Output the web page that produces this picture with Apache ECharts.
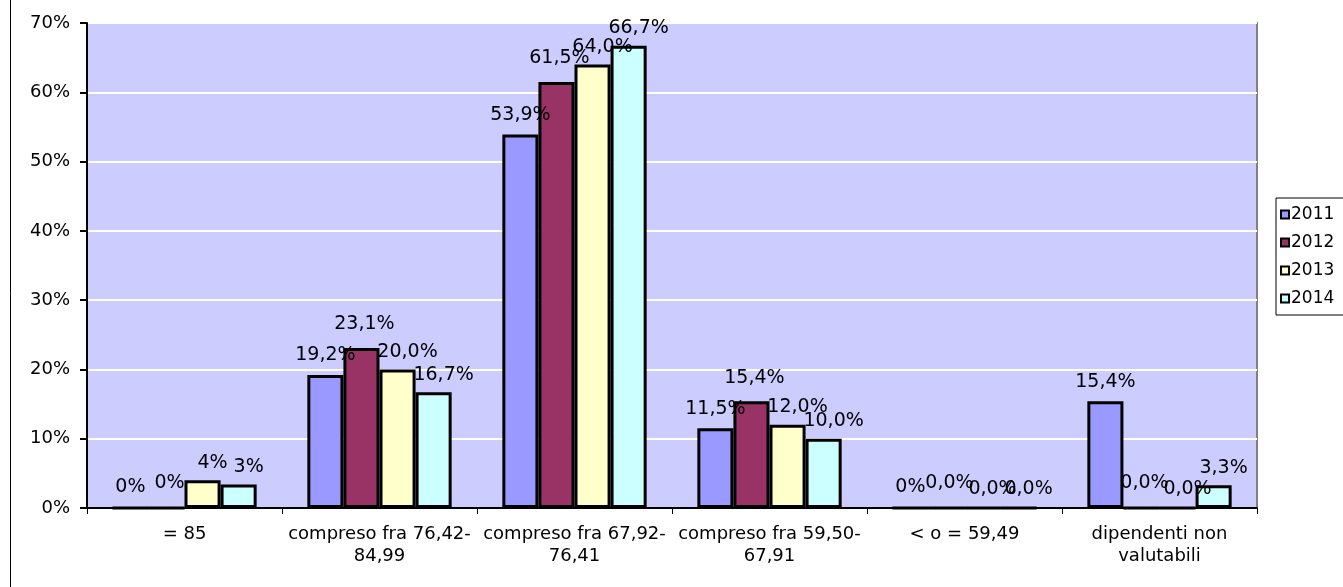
<!DOCTYPE html>
<html>
<head>
<meta charset="utf-8">
<script src="https://cdn.jsdelivr.net/npm/echarts@6/dist/echarts.min.js"></script>
<style>html,body{margin:0;padding:0;background:#fff}#c{width:1343px;height:587px}</style>
</head>
<body>
<div id="c"></div>
<script>
var categories = ['= 85', 'compreso fra 76,42-\n84,99', 'compreso fra 67,92-\n76,41', 'compreso fra 59,50-\n67,91', '< o = 59,49', 'dipendenti non\nvalutabili'];
var seriesNames = ['2011', '2012', '2013', '2014'];
var v2011 = [0, 19.2, 53.9, 11.5, 0, 15.4];
var v2012 = [0, 23.1, 61.5, 15.4, 0, 0];
var v2013 = [4.0, 20.0, 64.0, 12.0, 0, 0];
var v2014 = [3.4, 16.7, 66.7, 10.0, 0, 3.3];
// decimals shown in each data label
var dec2011 = [0, 1, 1, 1, 0, 1];
var dec2012 = [0, 1, 1, 1, 1, 1];
var dec2013 = [0, 1, 1, 1, 1, 1];
var dec2014 = [0, 1, 1, 1, 1, 1];
var yTicks = [0, 10, 20, 30, 40, 50, 60, 70];

var FONT = 'DejaVu Sans';
function fmt(v, d) { return v.toFixed(d).replace('.', ',') + '%'; }
function mk(name, data, dec, color, off, dist) {
  return {
    name: name, type: 'bar', data: data, barGap: '0%', barCategoryGap: '26%',
    itemStyle: { color: color, borderColor: '#000', borderWidth: 3 },
    label: {
      show: true, position: 'top', distance: dist, offset: off,
      fontFamily: FONT, fontSize: 19, color: '#000',
      formatter: function (p) { return fmt(p.value, dec[p.dataIndex]); }
    }
  };
}
var chart = echarts.init(document.getElementById('c'));
chart.setOption({
  animation: false,
  backgroundColor: '#fff',
  grid: { left: 87, right: 86, top: 23, bottom: 79, show: true, backgroundColor: '#CCCCFF', borderColor: '#808080', borderWidth: 2 },
  legend: {
    orient: 'vertical', left: 1276, top: 198, padding: [8, 40, 8, 4],
    itemWidth: 8, itemHeight: 8, itemGap: 11, icon: 'rect',
    borderColor: '#000', borderWidth: 1, backgroundColor: '#fff',
    textStyle: { fontFamily: FONT, fontSize: 17, color: '#000', padding: [0, 0, 0, -3] },
    data: seriesNames
  },
  xAxis: {
    type: 'category', data: categories,
    axisLine: { lineStyle: { color: '#000', width: 2 } },
    axisTick: { show: true, length: 6, lineStyle: { color: '#000', width: 1 } },
    axisLabel: { interval: 0, margin: 15, fontFamily: FONT, fontSize: 18, color: '#000', lineHeight: 22 }
  },
  yAxis: {
    type: 'value', min: yTicks[0], max: yTicks[yTicks.length - 1], interval: 10,
    axisLine: { show: true, lineStyle: { color: '#000', width: 2 } },
    axisTick: { show: true, length: 7, lineStyle: { color: '#000', width: 2 } },
    splitLine: { lineStyle: { color: '#fff', width: 2 } },
    axisLabel: { margin: 17, fontFamily: FONT, fontSize: 18, color: '#000', formatter: '{value}%' }
  },
  graphic: [{ type: 'line', shape: { x1: 10.5, y1: 0, x2: 10.5, y2: 587 }, style: { stroke: '#000', lineWidth: 1 } }],
  series: [
    mk('2011', v2011, dec2011, '#9999FF', [0, 0], 10),
    mk('2012', v2012, dec2012, '#993366', [3, 0], 14),
    mk('2013', v2013, dec2013, '#FFFFCC', [10, 0], 8),
    mk('2014', v2014, dec2014, '#CCFFFF', [10, 0], 8)
  ]
});
</script>
</body>
</html>
